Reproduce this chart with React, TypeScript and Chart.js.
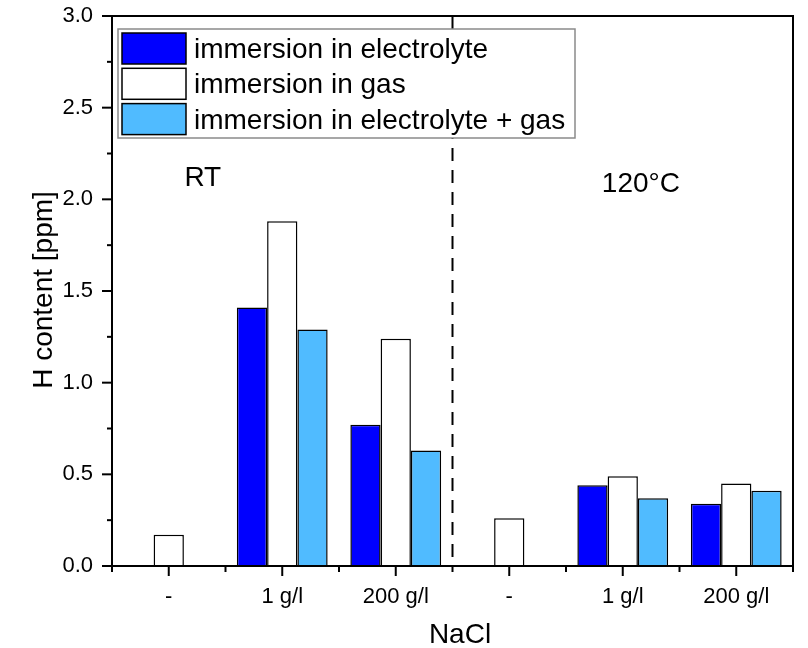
import React, { useEffect, useRef } from 'react';
import { Chart, registerables } from 'chart.js';

Chart.register(...registerables);

const categories = ['-', '1 g/l', '200 g/l', '-', '1 g/l', '200 g/l'];
const electrolyte = [null, 1.41, 0.77, null, 0.44, 0.34];
const gas = [0.17, 1.88, 1.24, 0.26, 0.49, 0.45];
const electrolyteGas = [null, 1.29, 0.63, null, 0.37, 0.41];
const seriesLabels = ['immersion in electrolyte', 'immersion in gas', 'immersion in electrolyte + gas'];
const seriesColors = ['#0000FF', '#FFFFFF', '#50BBFF'];
const groupLabels = ['RT', '120°C'];
const yAxisTitle = 'H content [ppm]';
const xAxisTitle = 'NaCl';

const FONT = '"Liberation Sans", Arial, sans-serif';

const decor = {
  id: 'decor',
  afterDatasetsDraw(chart: any) {
    const { ctx, chartArea: a, scales } = chart;
    const x = scales.x;
    const y = scales.y;
    ctx.save();
    ctx.strokeStyle = '#000';
    ctx.lineWidth = 2;

    // dashed divider between groups
    const dx = x.getPixelForValue(2.5);
    ctx.setLineDash([13, 9]);
    ctx.beginPath();
    ctx.moveTo(dx, a.top);
    ctx.lineTo(dx, a.bottom);
    ctx.stroke();
    ctx.setLineDash([]);

    // legend
    const lx = a.left + 6;
    const ly = a.top + 13;
    const lw = 457;
    const lh = 109;
    ctx.fillStyle = '#fff';
    ctx.fillRect(lx, ly, lw, lh);
    ctx.strokeStyle = '#8a8a8a';
    ctx.lineWidth = 1.5;
    ctx.strokeRect(lx, ly, lw, lh);
    ctx.font = `28px ${FONT}`;
    ctx.textAlign = 'left';
    ctx.textBaseline = 'alphabetic';
    chart.data.datasets.forEach((ds: any, i: number) => {
      const by = ly + 4 + i * 35.3;
      ctx.fillStyle = ds.backgroundColor;
      ctx.fillRect(lx + 4, by, 64, 31);
      ctx.strokeStyle = '#000';
      ctx.lineWidth = 1.5;
      ctx.strokeRect(lx + 4, by, 64, 31);
      ctx.fillStyle = '#000';
      ctx.fillText(ds.label, lx + 76, by + 25);
    });

    // frame
    ctx.strokeStyle = '#000';
    ctx.lineWidth = 2;
    ctx.beginPath();
    ctx.rect(a.left, a.top, a.right - a.left, a.bottom - a.top);
    ctx.stroke();

    // y ticks (major + minor)
    for (let k = 0; k <= 12; k++) {
      const v = k * 0.25;
      const py = y.getPixelForValue(v);
      const len = k % 2 === 0 ? 10 : 5;
      ctx.beginPath();
      ctx.moveTo(a.left - len, py);
      ctx.lineTo(a.left, py);
      ctx.stroke();
    }
    // x ticks
    for (let i = 0; i < categories.length; i++) {
      const px = x.getPixelForValue(i);
      ctx.beginPath();
      ctx.moveTo(px, a.bottom);
      ctx.lineTo(px, a.bottom + 10);
      ctx.stroke();
    }
    for (let i = 0; i <= categories.length; i++) {
      const px = x.getPixelForValue(i - 0.5);
      ctx.beginPath();
      ctx.moveTo(px, a.bottom);
      ctx.lineTo(px, a.bottom + 6);
      ctx.stroke();
    }

    // group labels
    ctx.fillStyle = '#000';
    ctx.font = `28px ${FONT}`;
    ctx.textAlign = 'center';
    ctx.textBaseline = 'alphabetic';
    ctx.fillText(groupLabels[0], x.getPixelForValue(0.3), y.getPixelForValue(2.073));
    ctx.fillText(groupLabels[1], x.getPixelForValue(4.16), y.getPixelForValue(2.04));

    // axis titles
    ctx.fillText(xAxisTitle, 460, 643);
    ctx.save();
    ctx.translate(52, (a.top + a.bottom) / 2 - 1);
    ctx.rotate(-Math.PI / 2);
    ctx.fillText(yAxisTitle, 0, 0);
    ctx.restore();

    ctx.restore();
  },
};

export default function App() {
  const ref = useRef<HTMLCanvasElement | null>(null);
  useEffect(() => {
    document.body.style.margin = '0';
    const canvas = ref.current;
    if (!canvas) return;
    const chart = new Chart(canvas, {
      type: 'bar',
      data: {
        labels: categories,
        datasets: [
          { label: seriesLabels[0], data: electrolyte, backgroundColor: seriesColors[0], borderColor: '#000', borderWidth: 1.5 },
          { label: seriesLabels[1], data: gas, backgroundColor: seriesColors[1], borderColor: '#000', borderWidth: 1.5 },
          { label: seriesLabels[2], data: electrolyteGas, backgroundColor: seriesColors[2], borderColor: '#000', borderWidth: 1.5 },
        ],
      },
      options: {
        responsive: false,
        animation: false,
        layout: { padding: { left: 0, right: 15, top: 16, bottom: 0 } },
        datasets: { bar: { categoryPercentage: 0.8, barPercentage: 1.0 } },
        plugins: { legend: { display: false }, tooltip: { enabled: false } },
        scales: {
          x: {
            grid: { display: false, drawTicks: false },
            border: { display: false },
            ticks: { font: { family: FONT, size: 22 }, color: '#000', padding: 18, maxRotation: 0, autoSkip: false },
            afterFit: (s: any) => { s.height = 82; s.paddingLeft = 0; s.paddingRight = 0; },
          },
          y: {
            min: 0,
            max: 3,
            grid: { display: false, drawTicks: false },
            border: { display: false },
            ticks: {
              stepSize: 0.5,
              font: { family: FONT, size: 22 },
              color: '#000',
              padding: 19,
              callback: (v: any) => Number(v).toFixed(1),
            },
            afterFit: (s: any) => { s.width = 112; s.paddingTop = 0; s.paddingBottom = 0; },
          },
        },
      },
      plugins: [decor],
    } as any);
    return () => chart.destroy();
  }, []);
  return <canvas ref={ref} width={808} height={648} style={{ display: 'block' }} />;
}
